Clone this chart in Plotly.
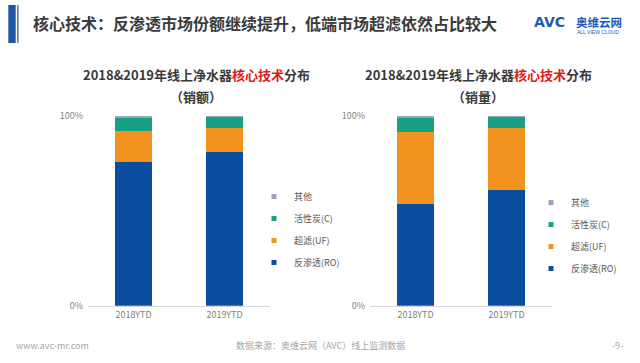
import plotly.graph_objects as go

categories = ["2018YTD", "2019YTD"]
series_names = ["反渗透(RO)", "超滤(UF)", "活性炭(C)", "其他"]
sales_value = {
    "反渗透(RO)": [75.8, 81.1],
    "超滤(UF)": [16.1, 12.6],
    "活性炭(C)": [6.7, 5.8],
    "其他": [1.4, 0.5],
}
sales_volume = {
    "反渗透(RO)": [53.3, 60.9],
    "超滤(UF)": [38.2, 32.6],
    "活性炭(C)": [7.4, 6.0],
    "其他": [1.1, 0.5],
}
colors = {
    "反渗透(RO)": "#0B4E9E",
    "超滤(UF)": "#F29320",
    "活性炭(C)": "#17A084",
    "其他": "#9AA3BC",
}
legend_rank = {"其他": 1, "活性炭(C)": 2, "超滤(UF)": 3, "反渗透(RO)": 4}
y_ticks = [0, 100]
y_tick_labels = ["0%", "100%"]

FONT = "Noto Sans CJK SC"
fig = go.Figure()

for data, xa, ya, lg in [(sales_value, "x", "y", "legend"), (sales_volume, "x2", "y2", "legend2")]:
    for name in series_names:
        fig.add_trace(go.Bar(
            x=categories, y=data[name], name=name,
            marker=dict(color=colors[name], line=dict(width=0)),
            xaxis=xa, yaxis=ya, showlegend=False, hoverinfo="skip",
        ))
        # legend entry with a small square swatch
        fig.add_trace(go.Scatter(
            x=[None], y=[None], name=name, mode="markers",
            marker=dict(symbol="square", size=5, color=colors[name]),
            xaxis=xa, yaxis=ya, legend=lg, legendgroup=lg + name,
            legendrank=legend_rank[name], showlegend=True, hoverinfo="skip",
        ))

ydom = [1 - 305.7 / 363, 1 - 115.7 / 363]
axis_common = dict(showgrid=False, zeroline=False, fixedrange=True)
xcommon = dict(axis_common, showline=True, linecolor="#D9D9D9", linewidth=1,
               tickfont=dict(family=FONT, size=9, color="#7F7F7F"), ticks="")
ycommon = dict(axis_common, range=[0, 100], tickvals=y_ticks, ticktext=y_tick_labels,
               tickfont=dict(family=FONT, size=9, color="#7F7F7F"), showline=False,
               ticks="", ticklabelstandoff=4)

legend_common = dict(
    traceorder="grouped", tracegroupgap=3,
    font=dict(family=FONT, size=9, color="#595959"),
    bgcolor="rgba(0,0,0,0)", itemwidth=30, xanchor="left", yanchor="top",
    itemclick=False, itemdoubleclick=False, borderwidth=0,
)

fig.update_layout(
    width=640, height=363,
    margin=dict(l=0, r=0, t=0, b=0, autoexpand=False),
    paper_bgcolor="white", plot_bgcolor="white",
    barmode="stack", bargap=0.6,
    showlegend=True,
    xaxis=dict(xcommon, domain=[88 / 640, 270 / 640], anchor="y"),
    yaxis=dict(ycommon, domain=ydom, anchor="x"),
    xaxis2=dict(xcommon, domain=[370 / 640, 552 / 640], anchor="y2"),
    yaxis2=dict(ycommon, domain=ydom, anchor="x2"),
    legend=dict(legend_common, x=254 / 640, y=1 - 182 / 363),
    legend2=dict(legend_common, x=531 / 640, y=1 - 188 / 363),
)

# Header bar
fig.add_shape(type="rect", xref="paper", yref="paper",
              x0=8.3 / 640, x1=15.7 / 640, y0=1 - 43 / 363, y1=1 - 5 / 363,
              fillcolor="#1D56A3", line=dict(width=0))
fig.add_shape(type="rect", xref="paper", yref="paper",
              x0=17.3 / 640, x1=18.5 / 640, y0=1 - 43 / 363, y1=1 - 5 / 363,
              fillcolor="#1D56A3", line=dict(width=0))
annos = [
    dict(x=31 / 640, y=1 - 23 / 363, xanchor="left", yanchor="middle",
         text="核心技术：反渗透市场份额继续提升，低端市场超滤依然占比较大",
         font=dict(family=FONT, size=16, color="#3A3A3A", weight="bold")),
    dict(x=532 / 640, y=1 - 22 / 363, xanchor="left", yanchor="middle",
         text="AVC", font=dict(family="DejaVu Sans", size=14, color="#1B5CB0", weight="bold")),
    dict(x=574 / 640, y=1 - 22 / 363, xanchor="left", yanchor="middle",
         text="奥维云网", font=dict(family=FONT, size=11.5, color="#1B5CB0", weight="bold")),
    dict(x=598 / 640, y=1 - 31.5 / 363, xanchor="center", yanchor="middle",
         text="ALL VIEW CLOUD", font=dict(family="Liberation Sans", size=5, color="#1B5CB0")),
    # chart titles
    dict(x=196 / 640, y=1 - 75 / 363, xanchor="center", yanchor="middle",
         text="<b>2018&2019年线上净水器<span style='color:#E01B1B'>核心技术</span>分布</b>",
         font=dict(family=FONT, size=13, color="#3A3A3A")),
    dict(x=196 / 640, y=1 - 97 / 363, xanchor="center", yanchor="middle",
         text="<b>（销额）</b>", font=dict(family=FONT, size=13, color="#3A3A3A")),
    dict(x=478 / 640, y=1 - 75 / 363, xanchor="center", yanchor="middle",
         text="<b>2018&2019年线上净水器<span style='color:#E01B1B'>核心技术</span>分布</b>",
         font=dict(family=FONT, size=13, color="#3A3A3A")),
    dict(x=478 / 640, y=1 - 97 / 363, xanchor="center", yanchor="middle",
         text="<b>（销量）</b>", font=dict(family=FONT, size=13, color="#3A3A3A")),
    # footer
    dict(x=14 / 640, y=1 - 345 / 363, xanchor="left", yanchor="middle",
         text="www.avc-mr.com", font=dict(family=FONT, size=9, color="#A6A6A6")),
    dict(x=320 / 640, y=1 - 345 / 363, xanchor="center", yanchor="middle",
         text="数据来源：奥维云网（AVC）线上监测数据", font=dict(family=FONT, size=9, color="#A6A6A6")),
    dict(x=625 / 640, y=1 - 345 / 363, xanchor="right", yanchor="middle",
         text="-9-", font=dict(family=FONT, size=9, color="#A6A6A6")),
]
for a in annos:
    a.update(xref="paper", yref="paper", showarrow=False)
    fig.add_annotation(**a)

fig.write_html("out.html", config={"displayModeBar": False},
               post_script="document.body.style.margin='0';")
